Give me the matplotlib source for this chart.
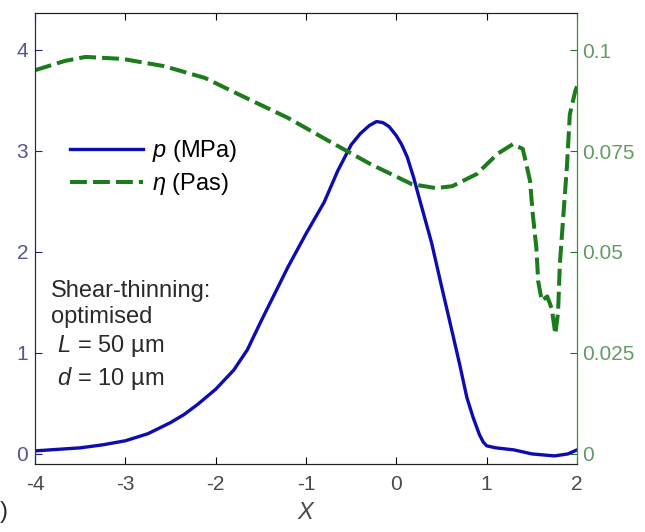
import matplotlib
matplotlib.use('Agg')
import matplotlib.pyplot as plt

plt.rcParams.update({
    'font.family': ['Liberation Sans', 'DejaVu Sans'],
    'mathtext.fontset': 'custom',
    'mathtext.rm': 'Liberation Sans',
    'mathtext.it': 'Liberation Sans:italic',
    'font.size': 15,
})

# pressure p (MPa), left axis
x_p = [-4.0, -3.5, -3.25, -3.0, -2.75, -2.5, -2.35, -2.2, -2.0, -1.8, -1.65, -1.5,
       -1.35, -1.2, -1.0, -0.8, -0.65, -0.5, -0.4, -0.3, -0.22, -0.15, -0.08, 0.0,
       0.06, 0.12, 0.19, 0.26, 0.39, 0.5, 0.62, 0.7, 0.78, 0.85, 0.92, 0.96, 1.0,
       1.1, 1.3, 1.5, 1.75, 1.9, 2.0]
p = [0.03, 0.06, 0.09, 0.13, 0.20, 0.31, 0.39, 0.49, 0.64, 0.83, 1.03, 1.31,
     1.58, 1.85, 2.18, 2.49, 2.80, 3.06, 3.17, 3.25, 3.29, 3.28, 3.24, 3.15,
     3.06, 2.94, 2.74, 2.51, 2.09, 1.66, 1.20, 0.89, 0.56, 0.36, 0.19, 0.12, 0.08,
     0.06, 0.04, 0.0, -0.02, 0.0, 0.04]

# viscosity eta (Pas), right axis
x_eta = [-4.0, -3.67, -3.44, -3.03, -2.57, -2.12, -1.66, -1.2, -0.75, -0.29, 0.17,
         0.44, 0.62, 0.89, 1.12, 1.29, 1.4, 1.48, 1.51, 1.55, 1.57, 1.61, 1.67, 1.72,
         1.76, 1.79, 1.81, 1.85, 1.89, 1.92, 1.98, 2.0]
eta = [0.0950, 0.0973, 0.0983, 0.0978, 0.0960, 0.0931, 0.0881, 0.0832, 0.0775, 0.0718,
       0.0668, 0.0658, 0.0663, 0.0693, 0.0743, 0.0767, 0.0755, 0.0676, 0.0594, 0.0510,
       0.0428, 0.0379, 0.0390, 0.0360, 0.0297, 0.0350, 0.0470, 0.0594, 0.0718, 0.0840,
       0.0898, 0.0910]

x_ticks = [-4, -3, -2, -1, 0, 1, 2]
p_ticks = [0, 1, 2, 3, 4]
eta_ticks = [0, 0.025, 0.05, 0.075, 0.1]
eta_labels = ['0', '0.025', '0.05', '0.075', '0.1']

blue = '#0c0cb0'
green = '#1c7c1c'
navy = '#22227a'

fig = plt.figure(figsize=(6.45, 5.32), dpi=100)
ax = fig.add_axes([0.0543, 0.1278, 0.8403, 0.848])
ax2 = ax.twinx()

l1, = ax.plot(x_p, p, color=blue, linewidth=2.4, label='$p$ (MPa)')
l2, = ax2.plot(x_eta, eta, color=green, linewidth=2.9, linestyle=(0, (4.2, 1.5)),
               label=r'$\eta$ (Pas)')

ax.set_xlim(-4, 2)
ax.set_ylim(-0.1, 4.366)
ax2.set_ylim(-0.0025, 0.1092)

ax.set_xticks(x_ticks)
ax.set_xticklabels([str(t) for t in x_ticks])
ax.set_yticks(p_ticks)
ax2.set_yticks(eta_ticks)
ax2.set_yticklabels(eta_labels)

ax.tick_params(axis='x', direction='in', length=5, top=True, pad=8,
               labelcolor='#4a4a4a', labelsize=15)
ax.tick_params(axis='y', direction='in', length=5, color=navy, pad=5,
               labelcolor='#545498', labelsize=15)
ax2.tick_params(axis='y', direction='in', length=5, color=green, pad=4,
                labelcolor='#649a64', labelsize=15)

for a in (ax, ax2):
    a.spines['left'].set_color(navy)
    a.spines['right'].set_color('#3c8a3c')
    a.spines['top'].set_color('#202020')
    a.spines['bottom'].set_color('#202020')

ax.set_xlabel('$X$', fontsize=17, color='#4a4a4a', labelpad=6)

ax.legend(handles=[l1, l2], loc='upper left', bbox_to_anchor=(0.064, 0.722),
          frameon=False, fontsize=17, handlelength=3.1, handletextpad=0.4,
          labelspacing=0.3, borderpad=0, borderaxespad=0)

ax.text(0.0295, 0.408, 'Shear-thinning:\noptimised\n $L$ = 50 µm\n $d$ = 10 µm',
        transform=ax.transAxes, fontsize=17, va='top', ha='left',
        linespacing=1.26, color='#2a2a2a')

# panel label, mostly cut off in the original
fig.text(0.0, 0.0376, ')', fontsize=17, ha='left', va='center', color='#2a2a2a')

fig.savefig('out.png', dpi=100)
